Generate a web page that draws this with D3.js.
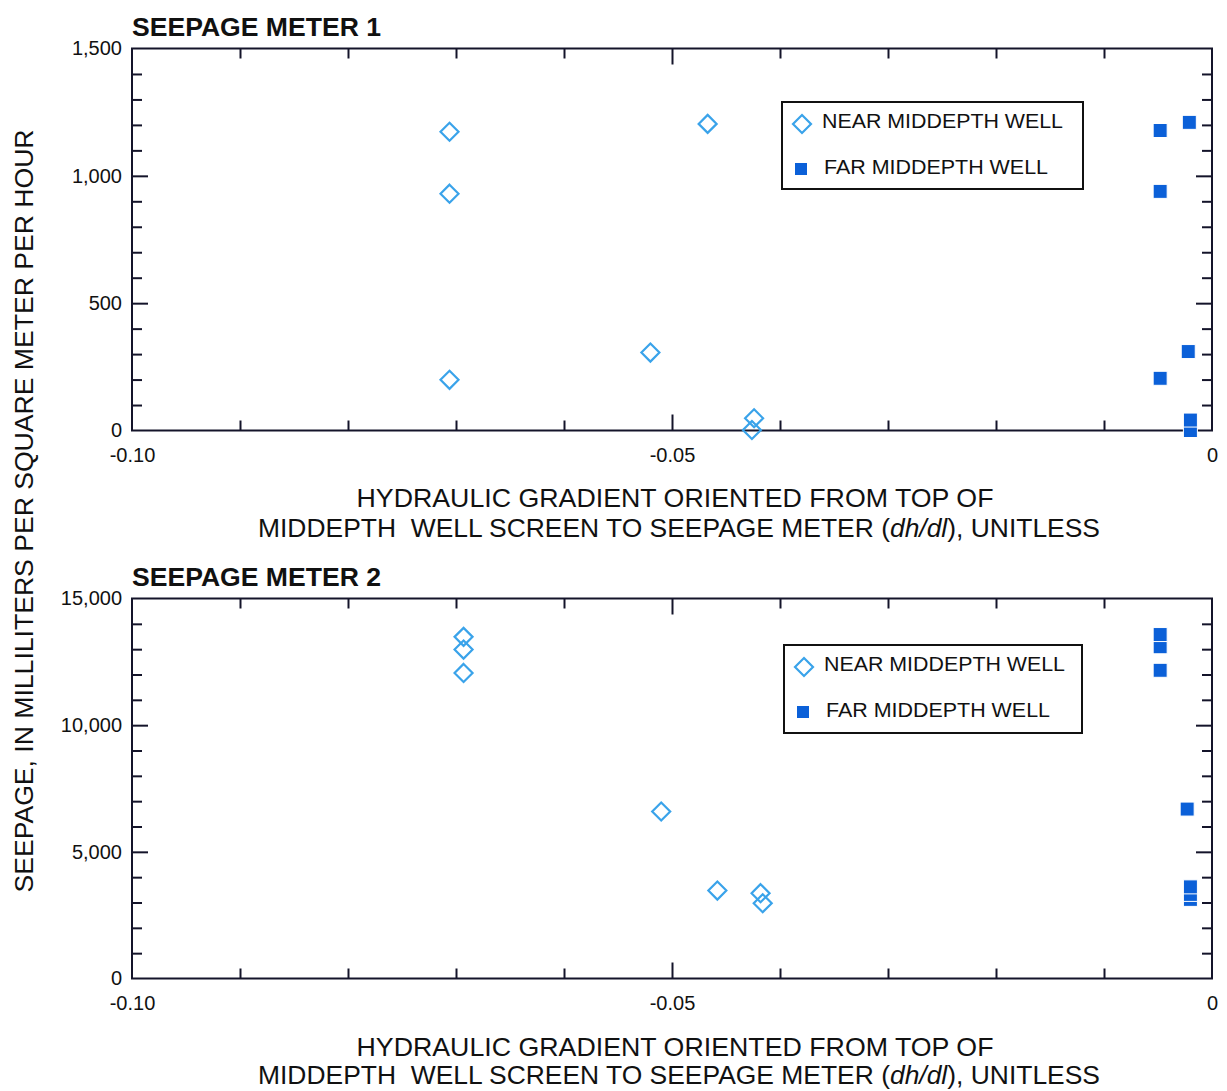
<!DOCTYPE html>
<html>
<head>
<meta charset="utf-8">
<script src="https://cdn.jsdelivr.net/npm/d3@7"></script>
<style>
  html, body { margin: 0; padding: 0; background: #fff; }
  svg { display: block; }
  text { font-family: "Liberation Sans", Arial, Helvetica, sans-serif; fill: #111; }
</style>
</head>
<body>
<svg id="chart" width="1227" height="1091"></svg>
<script>
// ---------------- DATA ----------------
const xDomain = [-0.10, 0];
const xMajorTicks = [-0.10, -0.05, 0];
const xTickLabels = ["-0.10", "-0.05", "0"];

const meter1Title = "SEEPAGE METER 1";
const meter1YDomain = [0, 1500];
const meter1YMajorTicks = [0, 500, 1000, 1500];
const meter1YTickLabels = ["0", "500", "1,000", "1,500"];
const meter1YMinorStep = 100;
const meter1NearX = [-0.0706, -0.0706, -0.0706, -0.0467, -0.0520, -0.0424, -0.0426];
const meter1NearY = [1173, 930, 199, 1204, 306, 48, 2];
const meter1FarX  = [-0.0048, -0.0021, -0.0048, -0.0022, -0.0048, -0.0020, -0.0020];
const meter1FarY  = [1178, 1210, 939, 310, 205, 41, 0];

const meter2Title = "SEEPAGE METER 2";
const meter2YDomain = [0, 15000];
const meter2YMajorTicks = [0, 5000, 10000, 15000];
const meter2YTickLabels = ["0", "5,000", "10,000", "15,000"];
const meter2YMinorStep = 1000;
const meter2NearX = [-0.0693, -0.0693, -0.0693, -0.0510, -0.0458, -0.0418, -0.0416];
const meter2NearY = [13486, 12984, 12063, 6593, 3470, 3368, 2972];
const meter2FarX  = [-0.0048, -0.0048, -0.0048, -0.0023, -0.0020, -0.0020, -0.0020];
const meter2FarY  = [13577, 13095, 12166, 6688, 3617, 3320, 3123];

const legendLabels = ["NEAR MIDDEPTH WELL", "FAR MIDDEPTH WELL"];
const xTitleLines = ["HYDRAULIC GRADIENT ORIENTED FROM TOP OF",
                     "MIDDEPTH  WELL SCREEN TO SEEPAGE METER (", "dh/dl", "), UNITLESS"];
const yTitle = "SEEPAGE, IN MILLILITERS PER SQUARE METER PER HOUR";

// ---------------- STYLE / LAYOUT ----------------
const nearColor = "#3aa3ea";
const farColor = "#0b60d8";
const axisColor = "#14142a";
const plotLeft = 132, plotRight = 1212;
const W = plotRight - plotLeft;

const svg = d3.select("#chart");

function drawPanel(cfg) {
  const g = svg.append("g").attr("transform", `translate(${plotLeft},${cfg.top})`);
  const H = cfg.height;
  const x = d3.scaleLinear().domain(xDomain).range([0, W]);
  const y = d3.scaleLinear().domain(cfg.yDomain).range([H, 0]);

  const xMinor = d3.range(1, 10).map(i => +(xDomain[0] + i * 0.01).toFixed(3)).filter(v => Math.abs(v + 0.05) > 1e-9);
  const yMax = cfg.yDomain[1];
  const yMinorF = d3.range(cfg.yMinorStep, yMax, cfg.yMinorStep).filter(v => !cfg.yMajor.includes(v));
  const yMajorInner = cfg.yMajor.filter(v => v > 0 && v < yMax);
  const xMajorInner = [-0.05];

  const noDomain = s => { s.select(".domain").remove(); s.selectAll("line").attr("stroke", axisColor).attr("stroke-width", 2); };

  // minor/major ticks on all four sides (inward)
  g.append("g").attr("transform", `translate(0,${H})`)
    .call(d3.axisBottom(x).tickValues(xMinor).tickSize(-10).tickFormat("")).call(noDomain);
  g.append("g").attr("transform", `translate(0,${H})`)
    .call(d3.axisBottom(x).tickValues(xMajorInner).tickSize(-16).tickFormat("")).call(noDomain);
  g.append("g")
    .call(d3.axisTop(x).tickValues(xMinor).tickSize(-10).tickFormat("")).call(noDomain);
  g.append("g")
    .call(d3.axisTop(x).tickValues(xMajorInner).tickSize(-16).tickFormat("")).call(noDomain);
  g.append("g")
    .call(d3.axisLeft(y).tickValues(yMinorF).tickSize(-10).tickFormat("")).call(noDomain);
  g.append("g")
    .call(d3.axisLeft(y).tickValues(yMajorInner).tickSize(-16).tickFormat("")).call(noDomain);
  g.append("g").attr("transform", `translate(${W},0)`)
    .call(d3.axisRight(y).tickValues(yMinorF).tickSize(-10).tickFormat("")).call(noDomain);
  g.append("g").attr("transform", `translate(${W},0)`)
    .call(d3.axisRight(y).tickValues(yMajorInner).tickSize(-16).tickFormat("")).call(noDomain);

  // tick labels
  const xl = g.append("g").attr("transform", `translate(0,${H})`)
    .call(d3.axisBottom(x).tickValues(xMajorTicks).tickSize(0).tickPadding(17)
      .tickFormat((d, i) => xTickLabels[i]));
  xl.select(".domain").remove();
  xl.selectAll("text").style("font-size", "20px").attr("fill", "#111")
    .style("font-family", '"Liberation Sans", Arial, sans-serif');

  const yl = g.append("g")
    .call(d3.axisLeft(y).tickValues(cfg.yMajor).tickSize(0).tickPadding(10)
      .tickFormat((d, i) => cfg.yLabels[i]));
  yl.select(".domain").remove();
  yl.selectAll("text").style("font-size", "20px").attr("fill", "#111")
    .style("font-family", '"Liberation Sans", Arial, sans-serif');

  // frame
  g.append("rect").attr("x", 0).attr("y", 0).attr("width", W).attr("height", H)
    .attr("fill", "none").attr("stroke", axisColor).attr("stroke-width", 2);

  // title
  svg.append("text").attr("x", plotLeft).attr("y", cfg.top - 13)
    .attr("font-weight", "bold").style("font-size", "25px")
    .attr("textLength", 249).attr("lengthAdjust", "spacingAndGlyphs")
    .text(cfg.title);

  // points
  const near = cfg.nearX.map((v, i) => ({ x: v, y: cfg.nearY[i] }));
  const far = cfg.farX.map((v, i) => ({ x: v, y: cfg.farY[i] })).sort((a, b) => a.y - b.y);
  const dsz = 9;
  const diamond = `M0,${-dsz}L${dsz},0L0,${dsz}L${-dsz},0Z`;
  g.selectAll(".near").data(near).enter().append("path")
    .attr("d", diamond)
    .attr("transform", d => `translate(${x(d.x)},${y(d.y)})`)
    .attr("fill", "none").attr("stroke", nearColor).attr("stroke-width", 2.2);
  const sq = 14;
  g.selectAll(".far").data(far).enter().append("rect")
    .attr("x", d => x(d.x) - sq / 2).attr("y", d => y(d.y) - sq / 2)
    .attr("width", sq).attr("height", sq)
    .attr("fill", farColor).attr("stroke", "#fff").attr("stroke-width", 1);

  // legend
  const L = cfg.legend;
  const lg = svg.append("g");
  lg.append("rect").attr("x", L.x).attr("y", L.y).attr("width", L.w).attr("height", L.h)
    .attr("fill", "#fff").attr("stroke", "#111").attr("stroke-width", 2);
  lg.append("path").attr("d", diamond)
    .attr("transform", `translate(${L.x + 20},${L.y + 22})`)
    .attr("fill", "none").attr("stroke", nearColor).attr("stroke-width", 2.2);
  lg.append("rect").attr("x", L.x + 19 - 6).attr("y", L.y + 67 - 6).attr("width", 12).attr("height", 12)
    .attr("fill", farColor);
  lg.append("text").attr("x", L.x + 40).attr("y", L.y + 26).style("font-size", "20px")
    .attr("textLength", 241).attr("lengthAdjust", "spacingAndGlyphs").text(legendLabels[0]);
  lg.append("text").attr("x", L.x + 42).attr("y", L.y + 72).style("font-size", "20px")
    .attr("textLength", 224).attr("lengthAdjust", "spacingAndGlyphs").text(legendLabels[1]);

  // x-axis title
  svg.append("text").attr("x", 675).attr("y", cfg.top + H + cfg.xt1)
    .attr("text-anchor", "middle").style("font-size", "25px")
    .attr("textLength", 637).attr("lengthAdjust", "spacingAndGlyphs")
    .text(xTitleLines[0]);
  const t2 = svg.append("text").attr("x", 679).attr("y", cfg.top + H + cfg.xt2)
    .attr("text-anchor", "middle").style("font-size", "25px")
    .attr("textLength", 842).attr("lengthAdjust", "spacingAndGlyphs")
    .style("white-space", "pre").attr("xml:space", "preserve");
  t2.append("tspan").text(xTitleLines[1]);
  t2.append("tspan").attr("font-style", "italic").text(xTitleLines[2]);
  t2.append("tspan").text(xTitleLines[3]);
}

drawPanel({
  top: 48.5, height: 382, title: meter1Title, yDomain: meter1YDomain,
  yMajor: meter1YMajorTicks, yLabels: meter1YTickLabels, yMinorStep: meter1YMinorStep,
  nearX: meter1NearX, nearY: meter1NearY, farX: meter1FarX, farY: meter1FarY,
  legend: { x: 782, y: 102, w: 301, h: 87 }, xt1: 76, xt2: 106
});
drawPanel({
  top: 598.5, height: 380, title: meter2Title, yDomain: meter2YDomain,
  yMajor: meter2YMajorTicks, yLabels: meter2YTickLabels, yMinorStep: meter2YMinorStep,
  nearX: meter2NearX, nearY: meter2NearY, farX: meter2FarX, farY: meter2FarY,
  legend: { x: 784, y: 645, w: 298, h: 88 }, xt1: 77, xt2: 105
});

// y-axis title
svg.append("text")
  .attr("transform", `translate(33,${511})rotate(-90)`)
  .attr("text-anchor", "middle").style("font-size", "25px")
  .attr("textLength", 763).attr("lengthAdjust", "spacingAndGlyphs")
  .text(yTitle);
</script>
</body>
</html>
